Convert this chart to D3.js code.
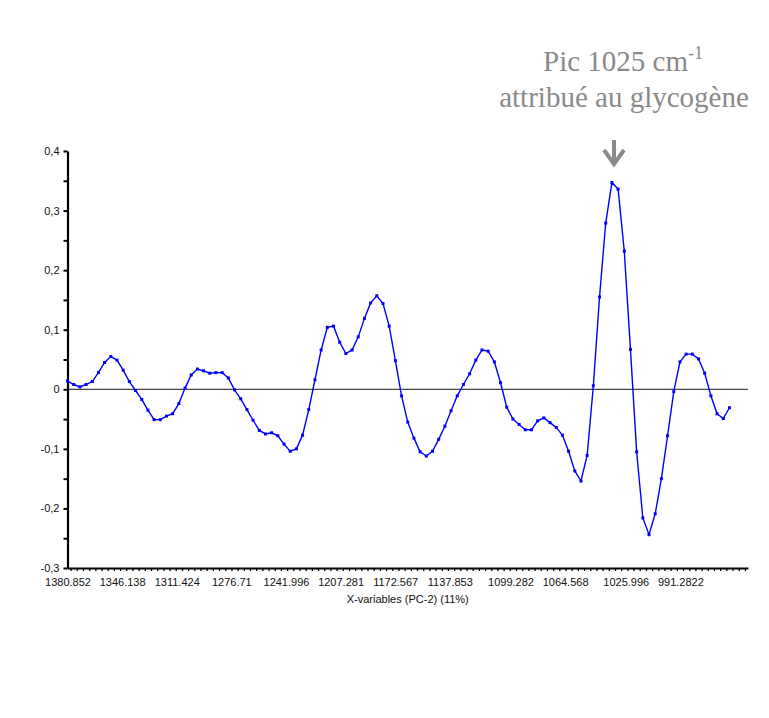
<!DOCTYPE html>
<html>
<head>
<meta charset="utf-8">
<script src="https://cdn.jsdelivr.net/npm/d3@7"></script>
<style>
  body { margin: 0; background: #fff; }
  svg text { font-family: "Liberation Sans", Arial, sans-serif; }
  .note { font-family: "Liberation Serif", "Times New Roman", serif; fill: #8a8a8a; }
</style>
</head>
<body>
<svg width="769" height="718"></svg>
<script>
"use strict";

/* loadings PC-2, one value per x-variable */
var loadings = [
  0.014, 0.008, 0.004, 0.008, 0.013, 0.028, 0.045, 0.055, 0.049, 0.032,
  0.013, -0.002, -0.017, -0.035, -0.051, -0.051, -0.045, -0.041, -0.024, 0.002,
  0.024, 0.034, 0.031, 0.027, 0.028, 0.028, 0.019, -0.001, -0.016, -0.034,
  -0.052, -0.069, -0.075, -0.073, -0.078, -0.092, -0.104, -0.100, -0.077, -0.034,
  0.016, 0.066, 0.104, 0.106, 0.079, 0.060, 0.066, 0.088, 0.119, 0.145,
  0.157, 0.144, 0.106, 0.048, -0.011, -0.055, -0.082, -0.105, -0.112, -0.104,
  -0.084, -0.062, -0.036, -0.011, 0.008, 0.026, 0.049, 0.066, 0.064, 0.046,
  0.011, -0.030, -0.050, -0.059, -0.068, -0.068, -0.053, -0.048, -0.056, -0.064,
  -0.077, -0.104, -0.137, -0.154, -0.111, 0.006, 0.155, 0.279, 0.347, 0.336,
  0.232, 0.067, -0.105, -0.216, -0.244, -0.209, -0.150, -0.078, -0.004, 0.046,
  0.059, 0.059, 0.051, 0.027, -0.011, -0.041, -0.049, -0.031
];

/* labelled x-variables (wavenumbers) and their index in the series */
var xTickLabels = ["1380.852", "1346.138", "1311.424", "1276.71", "1241.996", "1207.281",
                   "1172.567", "1137.853", "1099.282", "1064.568", "1025.996", "991.2822"];
var xTickIndex = [0, 9, 18, 27, 36, 45, 54, 63, 73, 82, 92, 101];

var yTicks = [-0.3, -0.2, -0.1, 0, 0.1, 0.2, 0.3, 0.4];
var yMinorTicks = [-0.25, -0.15, -0.05, 0.05, 0.15, 0.25, 0.35];

var xTitle = "X-variables (PC-2) (11%)";
var noteLine1 = "Pic 1025 cm";
var noteSup = "-1";
var noteLine2 = "attribué au glycogène";

var svg = d3.select("svg");

var x = d3.scaleLinear().domain([0, 110]).range([67.5, 748]);
// the program squeezes its category labels a little compared to the points
var xLab = d3.scaleLinear().domain([0, 110]).range([67.5, 735]);
var y = d3.scaleLinear().domain([-0.3, 0.4]).range([568, 151]);

var loc = d3.formatLocale({decimal: ",", thousands: ".", grouping: [3], currency: ["", ""], minus: "-"});
var fmt = function(d) { return d === 0 ? "0" : loc.format(".1f")(d); };

// zero line
svg.append("line")
  .attr("x1", x(0)).attr("x2", x(110))
  .attr("y1", y(0)).attr("y2", y(0))
  .attr("stroke", "#444").attr("stroke-width", 1.2);

// y axis
var gy = svg.append("g")
  .attr("transform", "translate(" + x(0) + ",0)")
  .call(d3.axisLeft(y).tickValues(yTicks).tickFormat(fmt).tickSize(4).tickSizeOuter(0).tickPadding(4));
gy.select(".domain").attr("stroke-width", 2.2);
gy.selectAll(".tick line").attr("stroke-width", 2);
gy.selectAll(".tick text").attr("font-size", 11).attr("fill", "#111").attr("font-family", null);

svg.append("g")
  .attr("transform", "translate(" + x(0) + ",0)")
  .call(d3.axisLeft(y).tickValues(yMinorTicks).tickFormat("").tickSize(4).tickSizeOuter(0))
  .call(function(g) { g.select(".domain").remove(); })
  .selectAll(".tick line").attr("stroke-width", 2);

// x axis: one small tick per variable, labels on a few
var minor = d3.range(0, 110).map(function(i) { return i + 0.5; });
var gxm = svg.append("g")
  .attr("transform", "translate(0," + y(-0.3) + ")")
  .call(d3.axisBottom(x).tickValues(minor).tickFormat("").tickSize(3).tickSizeOuter(0));
gxm.select(".domain").attr("stroke-width", 2.2);
gxm.selectAll(".tick line").attr("stroke-width", 1.3);

var gx = svg.append("g")
  .attr("transform", "translate(0," + y(-0.3) + ")")
  .call(d3.axisBottom(xLab).tickValues(xTickIndex)
    .tickFormat(function(d, i) { return xTickLabels[i]; })
    .tickSize(0).tickPadding(10));
gx.select(".domain").remove();
gx.selectAll(".tick text").attr("font-size", 11).attr("fill", "#111").attr("font-family", null);

svg.append("text")
  .attr("x", (x(0) + x(110)) / 2)
  .attr("y", 603)
  .attr("text-anchor", "middle")
  .attr("font-size", 11)
  .attr("fill", "#111")
  .text(xTitle);

// the loadings line
var line = d3.line()
  .x(function(d, i) { return x(i); })
  .y(function(d) { return y(d); });

svg.append("path")
  .datum(loadings)
  .attr("fill", "none")
  .attr("stroke", "#0000ff")
  .attr("stroke-width", 1.4)
  .attr("d", line);

svg.append("g")
  .selectAll("rect")
  .data(loadings)
  .enter().append("rect")
    .attr("x", function(d, i) { return x(i) - 1.5; })
    .attr("y", function(d) { return y(d) - 1.5; })
    .attr("width", 3)
    .attr("height", 3)
    .attr("fill", "#0000ff");

// annotation
var t1 = svg.append("text")
  .attr("class", "note")
  .attr("x", 623)
  .attr("y", 71)
  .attr("text-anchor", "middle")
  .attr("font-size", 29)
  .text(noteLine1);
t1.append("tspan")
  .attr("font-size", 18)
  .attr("dy", -12)
  .text(noteSup);

svg.append("text")
  .attr("class", "note")
  .attr("x", 624)
  .attr("y", 107)
  .attr("text-anchor", "middle")
  .attr("font-size", 29)
  .text(noteLine2);

svg.append("path")
  .attr("d", "M614,140 L614,163 M604,150 L614,164 L624,150")
  .attr("fill", "none")
  .attr("stroke", "#8a8a8a")
  .attr("stroke-width", 4)
  .attr("stroke-linejoin", "miter");
</script>
</body>
</html>
